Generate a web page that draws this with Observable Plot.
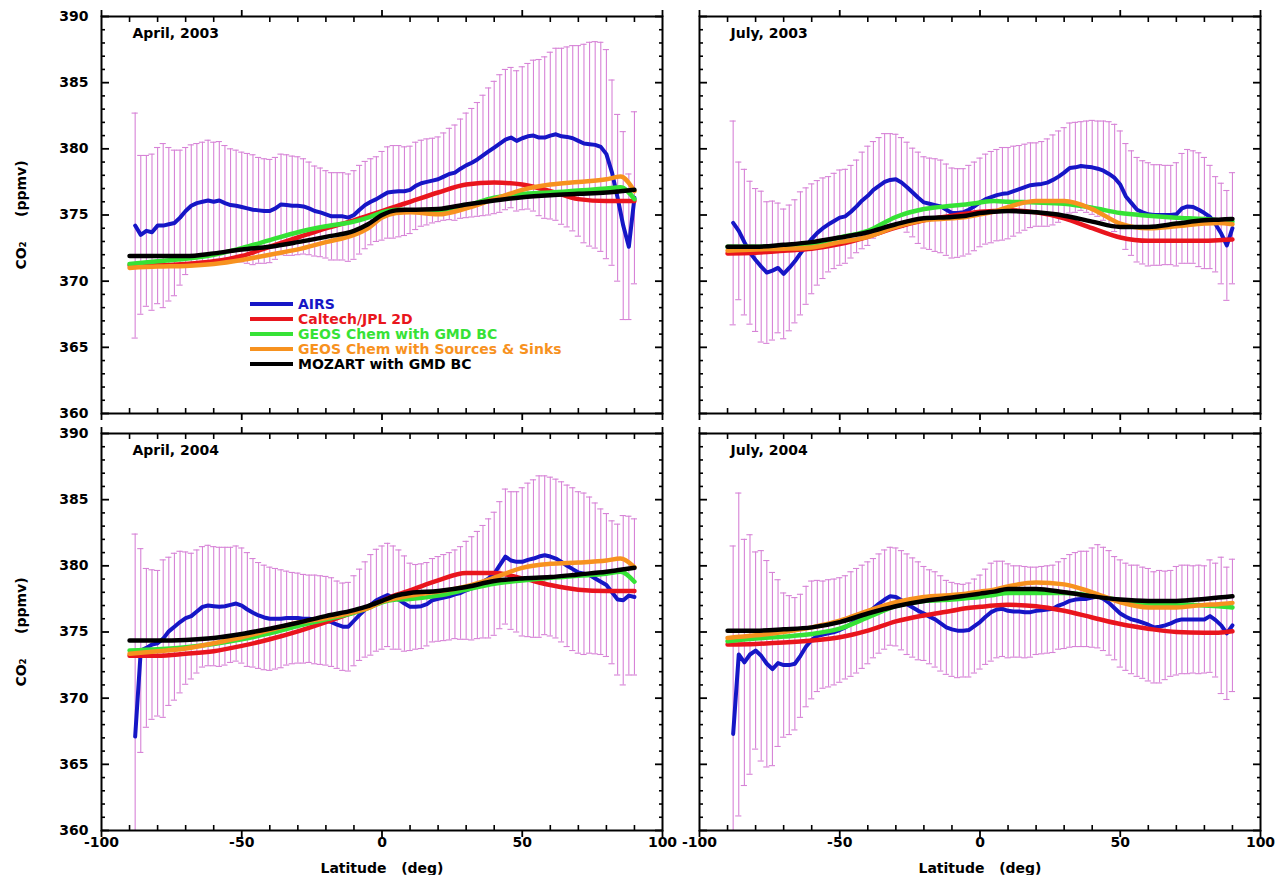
<!DOCTYPE html>
<html>
<head>
<meta charset="utf-8">
<script src="https://cdn.jsdelivr.net/npm/d3@7"></script>
<script src="https://cdn.jsdelivr.net/npm/@observablehq/plot@0.6"></script>
<style>
  body { margin: 0; background: #fff; }
  #root { position: relative; width: 1281px; height: 875px; font-family: "DejaVu Sans", sans-serif; font-weight: bold; overflow: hidden; }
  .panel { position: absolute; }
  .legend { position: absolute; left: 250px; top: 297px; font-size: 14px; }
  .legend .row { display: flex; align-items: center; height: 14.8px; white-space: nowrap; }
  .legend .sw { display: inline-block; width: 43px; height: 4px; margin-right: 5px; }
</style>
</head>
<body>
<div id="root"></div>
<script>
// ---------- categories / tick labels ----------
const airsLat = [-88,-86,-84,-82,-80,-78,-76,-74,-72,-70,-68,-66,-64,-62,-60,-58,-56,-54,-52,-50,
  -48,-46,-44,-42,-40,-38,-36,-34,-32,-30,-28,-26,-24,-22,-20,-18,-16,-14,-12,-10,
  -8,-6,-4,-2,0,2,4,6,8,10,12,14,16,18,20,22,24,26,28,30,
  32,34,36,38,40,42,44,46,48,50,52,54,56,58,60,62,64,66,68,70,
  72,74,76,78,80,82,84,86,88,90];
const modelLat = [-90,-80,-70,-60,-50,-40,-30,-20,-10,-5,0,5,10,20,30,40,50,60,70,80,85,90];
const xMajorTicks = [-100,-50,0,50,100];
const xMinorTicks = [-90,-80,-70,-60,-40,-30,-20,-10,10,20,30,40,60,70,80,90];
const yMajorTicks = [360,365,370,375,380,385,390];
const yMinorTicks = [361,362,363,364,366,367,368,369,371,372,373,374,376,377,378,379,381,382,383,384,386,387,388,389];
const seriesNames = ["AIRS","Caltech/JPL 2D","GEOS Chem with GMD BC","GEOS Chem with Sources & Sinks","MOZART with GMD BC"];
const seriesColors = ["#1616c6","#e9151d","#36e236","#f7921f","#000000"];
const panelTitles = ["April, 2003","July, 2003","April, 2004","July, 2004"];
const yAxisTitle = "CO\u2082     (ppmv)";
const xAxisTitle = "Latitude   (deg)";

// ---------- AIRS mean and 1-sigma (ppmv) ----------
const airsApr2003 = [374.2,373.5,373.8,373.7,374.2,374.2,374.3,374.4,374.8,375.3,
  375.7,375.9,376.0,376.1,376.0,376.1,375.9,375.75,375.7,375.6,
  375.5,375.4,375.35,375.3,375.3,375.5,375.8,375.75,375.7,375.7,
  375.65,375.5,375.3,375.2,375.05,374.9,374.9,374.9,374.8,375.0,
  375.4,375.75,376.0,376.2,376.45,376.7,376.75,376.8,376.8,376.9,
  377.2,377.4,377.5,377.6,377.7,377.9,378.1,378.2,378.5,378.75,
  378.95,379.2,379.5,379.8,380.1,380.4,380.7,380.85,380.6,380.8,
  380.95,381.0,380.85,380.85,381.0,381.1,380.95,380.9,380.8,380.6,
  380.4,380.35,380.3,380.15,379.6,378.2,376.3,374.2,372.6,376.3];
const sigmaApr2003 = [8.5,6.0,5.7,5.9,5.9,6.2,5.8,5.5,5.1,4.8,
  4.6,4.5,4.5,4.55,4.5,4.45,4.35,4.25,4.2,4.15,
  4.15,4.15,4.0,3.95,3.9,3.85,3.8,3.8,3.75,3.7,
  3.6,3.5,3.4,3.35,3.3,3.3,3.3,3.3,3.3,3.35,
  3.35,3.3,3.25,3.2,3.35,3.45,3.5,3.45,3.35,3.3,
  3.3,3.25,3.25,3.2,3.2,3.3,3.45,3.6,3.75,3.95,
  4.1,4.3,4.55,4.8,5.0,5.2,5.3,5.3,5.3,5.4,
  5.5,5.7,5.9,6.1,6.3,6.5,6.65,6.8,7.0,7.2,
  7.5,7.7,7.8,7.9,7.9,7.0,6.3,7.1,5.5,6.5];
const airsJul2003 = [374.4,373.8,372.95,372.15,371.6,371.1,370.65,370.8,371.0,370.55,
  371.0,371.5,372.1,372.65,373.2,373.65,374.0,374.3,374.55,374.8,
  374.9,375.25,375.65,376.1,376.45,376.9,377.2,377.5,377.65,377.7,
  377.45,377.1,376.7,376.3,375.95,375.85,375.75,375.65,375.4,375.15,
  375.15,375.2,375.4,375.65,375.95,376.2,376.35,376.5,376.6,376.65,
  376.8,376.95,377.1,377.25,377.3,377.35,377.45,377.65,377.9,378.2,
  378.55,378.6,378.7,378.65,378.6,378.5,378.35,378.1,377.8,377.3,
  376.4,375.9,375.4,375.2,375.05,375.0,375.0,375.0,375.0,375.05,
  375.5,375.65,375.6,375.4,375.15,374.85,374.3,373.6,372.7,374.0];
const sigmaJul2003 = [7.7,5.2,5.5,5.4,5.4,5.7,5.35,5.25,4.9,4.9,
  4.75,4.65,4.65,4.4,4.15,3.95,3.8,3.6,3.6,3.6,
  3.55,3.5,3.5,3.65,3.75,3.65,3.65,3.65,3.5,3.4,
  3.4,3.4,3.35,3.45,3.45,3.45,3.5,3.5,3.45,3.4,
  3.35,3.3,3.35,3.35,3.35,3.4,3.45,3.45,3.5,3.45,
  3.4,3.3,3.25,3.2,3.15,3.2,3.3,3.4,3.45,3.4,
  3.4,3.4,3.35,3.45,3.55,3.6,3.75,3.95,4.05,4.05,
  4.0,3.95,3.95,3.9,3.9,3.8,3.8,3.75,3.75,3.9,
  4.15,4.3,4.25,4.3,4.2,3.9,3.6,3.8,4.15,4.2];
const airsApr2004 = [367.1,373.6,373.8,374.05,374.15,374.5,375.05,375.4,375.75,376.05,
  376.2,376.55,376.9,377.0,376.95,376.9,376.95,377.05,377.15,377.0,
  376.7,376.45,376.25,376.1,376.0,376.0,376.0,376.05,376.05,376.05,
  376.0,376.0,375.95,375.9,375.85,375.75,375.55,375.4,375.4,375.85,
  376.3,376.7,377.05,377.4,377.6,377.8,377.6,377.45,377.15,376.9,
  376.9,376.95,377.1,377.4,377.5,377.6,377.7,377.85,377.95,378.15,
  378.3,378.55,378.8,379.05,379.4,380.05,380.7,380.4,380.3,380.3,
  380.45,380.55,380.7,380.8,380.7,380.55,380.3,380.0,379.75,379.5,
  379.4,379.3,379.05,378.8,378.55,378.0,377.45,377.4,377.75,377.65];
const sigmaApr2004 = [15.3,7.7,6.0,5.65,5.5,5.95,5.6,5.55,5.35,5.0,
  4.75,4.65,4.55,4.55,4.5,4.5,4.45,4.35,4.35,4.35,
  4.3,4.1,4.0,3.95,3.9,3.8,3.7,3.55,3.45,3.4,
  3.35,3.3,3.35,3.35,3.35,3.35,3.3,3.3,3.35,3.4,
  3.45,3.6,3.8,3.85,3.9,3.9,3.9,3.75,3.6,3.3,
  3.2,3.2,3.15,3.15,3.2,3.25,3.3,3.35,3.5,3.7,
  3.9,4.05,4.25,4.5,4.65,4.8,5.1,5.2,5.3,5.6,
  5.8,5.95,6.1,6.0,6.0,6.0,6.05,6.1,6.15,6.1,
  6.1,5.9,5.7,5.5,5.4,5.4,5.7,6.4,6.0,5.9];
const airsJul2004 = [367.3,373.3,372.7,373.3,373.6,373.2,372.6,372.2,372.65,372.5,
  372.5,372.6,373.2,373.9,374.4,374.7,374.8,374.9,375.0,375.15,
  375.35,375.6,375.85,376.15,376.45,376.8,377.15,377.45,377.7,377.65,
  377.4,377.1,376.85,376.6,376.4,376.15,375.95,375.65,375.35,375.2,
  375.1,375.1,375.15,375.45,375.75,376.15,376.5,376.7,376.75,376.6,
  376.55,376.55,376.5,376.5,376.6,376.65,376.7,376.75,377.0,377.15,
  377.35,377.45,377.5,377.5,377.6,377.7,377.5,377.2,376.8,376.4,
  376.15,375.95,375.85,375.7,375.55,375.35,375.4,375.5,375.65,375.85,
  375.95,375.95,375.95,375.95,375.95,376.2,375.9,375.5,374.9,375.5];
const sigmaJul2004 = [14.2,12.2,9.3,9.05,7.45,7.95,7.8,7.3,6.3,5.45,
  5.25,5.0,4.65,4.55,4.45,4.2,4.05,4.05,4.0,3.95,
  3.9,3.95,3.95,3.9,3.85,3.75,3.75,3.75,3.7,3.7,
  3.75,3.8,3.75,3.7,3.55,3.55,3.6,3.6,3.55,3.55,
  3.55,3.5,3.55,3.55,3.55,3.6,3.7,3.65,3.6,3.55,
  3.45,3.45,3.45,3.4,3.3,3.3,3.3,3.3,3.3,3.4,
  3.5,3.55,3.6,3.6,3.75,3.9,3.9,3.95,3.9,4.05,
  4.05,4.1,4.2,4.2,4.25,4.2,4.25,4.1,4.0,4.1,
  4.1,4.1,4.05,4.1,4.05,4.25,4.3,5.15,5.0,5.0];

// ---------- model curves (ppmv) on modelLat ----------
const caltechApr2003 = [371.2,371.2,371.3,371.5,371.9,372.6,373.3,374.0,374.6,374.95,375.3,375.65,376.0,376.7,377.3,377.45,377.3,376.8,376.2,376.05,376.05,376.05];
const geosGmdApr2003 = [371.3,371.5,371.7,372.0,372.5,373.1,373.7,374.15,374.5,374.8,375.2,375.4,375.35,375.3,375.7,376.3,376.6,376.7,376.85,377.0,377.1,376.2];
const geosSsApr2003  = [371.0,371.1,371.15,371.3,371.6,372.0,372.4,372.95,373.5,374.0,374.8,375.15,375.2,375.05,375.5,376.2,376.9,377.3,377.5,377.7,377.9,376.8];
const mozartApr2003  = [371.9,371.9,371.9,372.1,372.4,372.6,372.95,373.35,373.8,374.3,375.0,375.35,375.4,375.45,375.8,376.1,376.35,376.5,376.6,376.7,376.8,376.9];

const caltechJul2003 = [372.1,372.15,372.3,372.45,372.8,373.35,374.05,374.6,374.95,375.1,375.25,375.3,375.35,375.2,374.75,374.0,373.3,373.05,373.05,373.05,373.1,373.15];
const geosGmdJul2003 = [372.6,372.6,372.65,372.8,373.3,373.8,374.85,375.45,375.7,375.8,375.95,376.05,376.0,375.95,375.85,375.55,375.15,374.95,374.8,374.7,374.6,374.5];
const geosSsJul2003  = [372.3,372.4,372.45,372.55,372.95,373.35,374.1,374.6,374.75,374.85,375.05,375.25,375.6,376.05,376.05,375.45,374.35,374.0,374.15,374.35,374.4,374.3];
const mozartJul2003  = [372.6,372.6,372.75,372.95,373.3,373.7,374.3,374.75,374.85,374.95,375.15,375.25,375.3,375.2,374.95,374.5,374.1,374.1,374.35,374.6,374.65,374.7];

const caltechApr2004 = [373.2,373.2,373.35,373.55,373.95,374.45,375.05,375.75,376.5,376.9,377.35,377.8,378.15,378.9,379.45,379.45,379.05,378.55,378.2,378.1,378.1,378.1];
const geosGmdApr2004 = [373.6,373.7,373.85,374.1,374.45,374.9,375.45,375.95,376.45,376.8,377.25,377.45,377.5,377.75,378.2,378.65,378.9,379.1,379.25,379.4,379.55,378.8];
const geosSsApr2004  = [373.35,373.55,373.75,374.15,374.6,375.15,375.7,376.05,376.5,376.8,377.3,377.55,377.75,378.05,378.45,379.1,379.85,380.15,380.25,380.4,380.55,379.9];
const mozartApr2004  = [374.35,374.35,374.4,374.55,374.85,375.25,375.7,376.2,376.65,376.95,377.35,377.75,377.95,378.1,378.4,378.85,379.05,379.15,379.35,379.55,379.7,379.85];

const caltechJul2004 = [374.05,374.1,374.2,374.35,374.6,375.1,375.8,376.25,376.6,376.8,376.9,377.0,377.05,376.95,376.6,376.1,375.6,375.25,375.0,374.95,374.95,375.05];
const geosGmdJul2004 = [374.3,374.5,374.65,374.85,375.25,376.1,376.95,377.35,377.45,377.55,377.65,377.8,377.95,377.95,377.95,377.75,377.4,377.15,377.1,377.0,376.95,376.85];
const geosSsJul2004  = [374.55,374.75,375.0,375.35,375.85,376.6,377.25,377.65,377.8,377.9,378.05,378.2,378.45,378.75,378.6,378.0,377.25,376.85,376.85,377.05,377.1,377.2];
const mozartJul2004  = [375.1,375.1,375.2,375.35,375.75,376.4,376.95,377.35,377.6,377.75,377.9,378.05,378.25,378.25,378.0,377.7,377.45,377.35,377.35,377.5,377.6,377.7];

// ---------- panel assembly ----------
const errColor = "#d783d7";
const panelSpecs = [
  {title: panelTitles[0], mean: airsApr2003, sigma: sigmaApr2003, models: [caltechApr2003, geosGmdApr2003, geosSsApr2003, mozartApr2003],
   left: 0, top: 0, width: 680, height: 425, mL: 101, mR: 18, mT: 16, mB: 12, yLab: true, xLab: false},
  {title: panelTitles[1], mean: airsJul2003, sigma: sigmaJul2003, models: [caltechJul2003, geosGmdJul2003, geosSsJul2003, mozartJul2003],
   left: 680, top: 0, width: 601, height: 425, mL: 19, mR: 21, mT: 16, mB: 12, yLab: false, xLab: false},
  {title: panelTitles[2], mean: airsApr2004, sigma: sigmaApr2004, models: [caltechApr2004, geosGmdApr2004, geosSsApr2004, mozartApr2004],
   left: 0, top: 420, width: 680, height: 455, mL: 101, mR: 18, mT: 13, mB: 45, yLab: true, xLab: true},
  {title: panelTitles[3], mean: airsJul2004, sigma: sigmaJul2004, models: [caltechJul2004, geosGmdJul2004, geosSsJul2004, mozartJul2004],
   left: 680, top: 420, width: 601, height: 455, mL: 19, mR: 21, mT: 13, mB: 45, yLab: false, xLab: true}
];

const blank = () => "";
const root = document.getElementById("root");

for (const p of panelSpecs) {
  const airs = airsLat.map((lat, i) => ({lat, v: p.mean[i], s: p.sigma[i]}));
  const modelMarks = p.models.map((vals, k) =>
    Plot.line(modelLat.map((lat, i) => ({lat, v: vals[i]})), {
      x: "lat", y: "v", curve: "monotone-x", stroke: seriesColors[k + 1], strokeWidth: 4.5, clip: true
    })
  );
  const marks = [
    Plot.ruleX(airs, {x: "lat", y1: d => d.v - d.s, y2: d => d.v + d.s, stroke: errColor, strokeWidth: 1.1, clip: true}),
    Plot.ruleY(airs, {y: d => d.v + d.s, x1: d => d.lat - 1.1, x2: d => d.lat + 1.1, stroke: errColor, strokeWidth: 1.1, clip: true}),
    Plot.ruleY(airs, {y: d => d.v - d.s, x1: d => d.lat - 1.1, x2: d => d.lat + 1.1, stroke: errColor, strokeWidth: 1.1, clip: true}),
    Plot.line(airs, {x: "lat", y: "v", stroke: seriesColors[0], strokeWidth: 4, clip: true}),
    ...modelMarks,
    Plot.frame({stroke: "#000", strokeWidth: 2}),
    Plot.axisY({anchor: "left", ticks: yMinorTicks, tickSize: -4, tickFormat: blank, label: null, strokeWidth: 1.6}),
    Plot.axisY({anchor: "left", ticks: yMajorTicks, tickSize: -8, tickFormat: blank, label: null, strokeWidth: 1.8}),
    Plot.axisY({anchor: "right", ticks: yMinorTicks, tickSize: -4, tickFormat: blank, label: null, strokeWidth: 1.6}),
    Plot.axisY({anchor: "right", ticks: yMajorTicks, tickSize: -8, tickFormat: blank, label: null, strokeWidth: 1.8}),
    Plot.axisX({anchor: "bottom", ticks: xMinorTicks, tickSize: -5, tickFormat: blank, label: null, strokeWidth: 1.6}),
    Plot.axisX({anchor: "bottom", ticks: xMajorTicks, tickSize: 7, tickFormat: blank, label: null, strokeWidth: 1.8}),
    Plot.axisX({anchor: "top", ticks: xMinorTicks, tickSize: -5, tickFormat: blank, label: null, strokeWidth: 1.6}),
    Plot.axisX({anchor: "top", ticks: xMajorTicks, tickSize: 7, tickFormat: blank, label: null, strokeWidth: 1.8}),
    Plot.text([p.title], {text: d => d, frameAnchor: "top-left", dx: 31, dy: 12, lineAnchor: "top", textAnchor: "start", fontSize: 14, fontWeight: "bold", fill: "#000"})
  ];
  if (p.yLab) {
    marks.push(Plot.axisY({anchor: "left", ticks: yMajorTicks, tickSize: 0, tickPadding: 13, tickFormat: d => String(d),
      label: yAxisTitle, labelAnchor: "center", labelOffset: 85, labelArrow: "none", fontSize: 14, fontWeight: "bold"}));
  }
  if (p.xLab) {
    marks.push(Plot.axisX({anchor: "bottom", ticks: xMajorTicks, tickSize: 0, tickPadding: 7, tickFormat: d => String(d),
      label: xAxisTitle, labelAnchor: "center", labelOffset: 42, labelArrow: "none", fontSize: 14, fontWeight: "bold"}));
  }
  const svg = Plot.plot({
    width: p.width, height: p.height,
    marginLeft: p.mL, marginRight: p.mR, marginTop: p.mT, marginBottom: p.mB,
    x: {domain: [-100, 100]},
    y: {domain: [360, 390]},
    style: {background: "transparent", overflow: "visible", fontFamily: "'DejaVu Sans', sans-serif", fontWeight: "bold", fontSize: "14px", color: "#000"},
    marks
  });
  const holder = document.createElement("div");
  holder.className = "panel";
  holder.style.left = p.left + "px";
  holder.style.top = p.top + "px";
  holder.style.width = p.width + "px";
  holder.style.height = p.height + "px";
  holder.appendChild(svg);
  root.appendChild(holder);
}

// legend (inside the April 2003 panel)
const legend = document.createElement("div");
legend.className = "legend";
seriesNames.forEach((name, i) => {
  const row = document.createElement("div");
  row.className = "row";
  const sw = document.createElement("span");
  sw.className = "sw";
  sw.style.background = seriesColors[i];
  const label = document.createElement("span");
  label.textContent = name;
  label.style.color = seriesColors[i];
  row.appendChild(sw);
  row.appendChild(label);
  legend.appendChild(row);
});
root.appendChild(legend);
</script>
</body>
</html>
